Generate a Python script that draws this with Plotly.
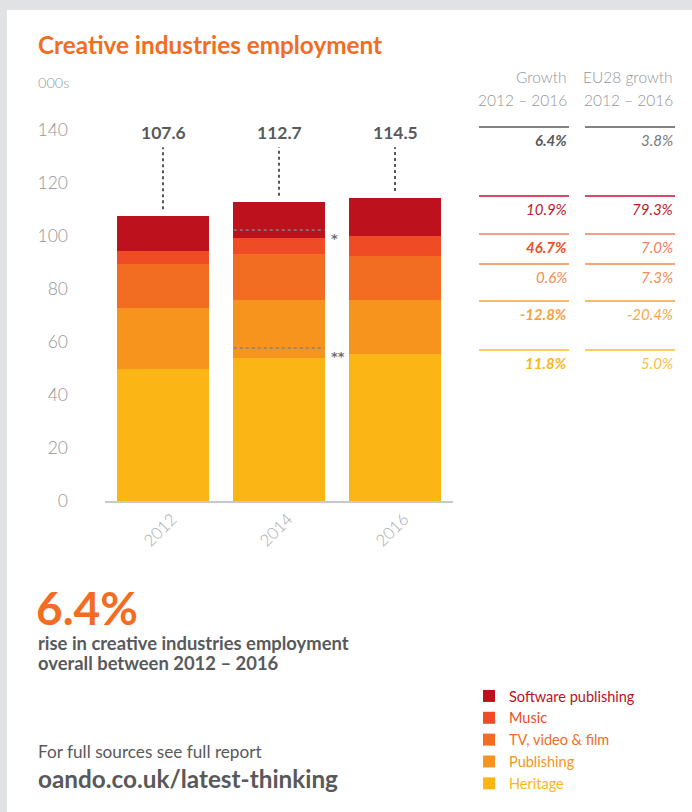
import plotly.graph_objects as go

W, H = 692, 812

# ---------------- data ----------------
years = ["2012", "2014", "2016"]
sectors = ["Heritage", "Publishing", "TV, video & film", "Music", "Software publishing"]
colors = ["#fbb615", "#f7941e", "#f26c22", "#ef4b24", "#bd111d"]
heritage = [49.8, 54.0, 55.6]
publishing = [23.0, 21.8, 20.2]
tv_video_film = [16.6, 17.4, 16.7]
music = [4.9, 6.0, 7.4]
software = [13.3, 13.5, 14.6]
totals = [107.6, 112.7, 114.5]
series = [heritage, publishing, tv_video_film, music, software]

# dotted reference marks in the 2014 bar
mark_year_index = 1
mark_values = [102.3, 57.7]
mark_labels = ["*", "**"]

# growth table (top row = total)
table_rows = ["Total", "Software publishing", "Music", "TV, video & film", "Publishing", "Heritage"]
growth_uk = ["6.4%", "10.9%", "46.7%", "0.6%", "-12.8%", "11.8%"]
growth_eu = ["3.8%", "79.3%", "7.0%", "7.3%", "-20.4%", "5.0%"]
uk_bold = [True, False, True, False, True, True]
row_line_colors = ["#58595b", "#c8102e", "#f47c5c", "#f5894a", "#f8a23a", "#fcbe2a"]
row_text_colors = ["#58595b", "#c0182b", "#f04e23", "#f58a50", "#f7a13a", "#fbb617"]
eu_text_colors = ["#77787b", "#c0182b", "#f47c5c", "#f58a50", "#f7a747", "#fbc040"]

yticks = [0, 20, 40, 60, 80, 100, 120, 140]

FONT = "Lato"
GRAY = "#58595b"
LIGHT = "#939598"
ORANGE = "#f26c22"


def px(x):
    return x / W


def py(y):
    return 1 - y / H


fig = go.Figure()
for name, vals, col in zip(sectors, series, colors):
    fig.add_trace(go.Bar(
        x=years, y=vals, name=f"<span style='color:{col}'>{name}</span>",
        marker=dict(color=col, line=dict(width=0)), hoverinfo="y+name",
    ))

# plot area: y=0 at px 501, 140 at px 130
ymax = 145
ppu = (501 - 130) / 140
top_px = 501 - ymax * ppu

shapes = []
annotations = []

# white card
shapes.append(dict(type="rect", xref="paper", yref="paper", x0=px(7), x1=1.0, y0=0, y1=py(10),
                   fillcolor="white", line=dict(width=0), layer="below"))

# totals labels + dotted leaders
label_val = 139.2
for i, (yr, t) in enumerate(zip(years, totals)):
    annotations.append(dict(x=i, y=label_val, xref="x", yref="y", text=f"<b>{t}</b>",
                            showarrow=False, font=dict(family=FONT, size=17.5, color=GRAY)))
    shapes.append(dict(type="line", xref="x", yref="y", x0=i, x1=i, y0=t + 2.5, y1=133.5,
                       line=dict(color=GRAY, width=2, dash="dot")))

# reference dotted lines in 2014 bar
for v, lab in zip(mark_values, mark_labels):
    shapes.append(dict(type="line", xref="x", yref="y", x0=mark_year_index - 0.39, x1=mark_year_index + 0.39,
                       y0=v, y1=v, line=dict(color="#808285", width=1.5, dash="dot")))
    annotations.append(dict(x=mark_year_index + 0.43, y=v + 0.3, xref="x", yref="y", text=f"<b>{lab}</b>",
                            showarrow=False, xanchor="left", yanchor="top",
                            font=dict(family="DejaVu Sans", size=13, color="#6d6e71")))

# title etc
annotations.append(dict(x=px(36), y=py(44), xref="paper", yref="paper", xanchor="left", yanchor="middle",
                        text="<b>Creative industries employment</b>", showarrow=False,
                        font=dict(family=FONT, size=24.3, color=ORANGE)))
annotations.append(dict(x=px(36), y=py(82), xref="paper", yref="paper", xanchor="left", yanchor="middle",
                        text="000s", showarrow=False, font=dict(family=FONT, size=14.5, color=LIGHT, weight=300)))

# table headers
col_right = [569, 675]
col_left = [479, 585]
headers = [("Growth", "2012 – 2016"), ("EU28 growth", "2012 – 2016")]
for (h1, h2), xr in zip(headers, col_right):
    annotations.append(dict(x=px(xr), y=py(77), xref="paper", yref="paper", xanchor="right", yanchor="middle",
                            text=h1, showarrow=False, font=dict(family=FONT, size=15.5, color=LIGHT, weight=300)))
    annotations.append(dict(x=px(xr), y=py(100), xref="paper", yref="paper", xanchor="right", yanchor="middle",
                            text=h2, showarrow=False, font=dict(family=FONT, size=15.5, color=LIGHT, weight=300)))

row_y = [127, 196, 234, 264, 301, 350]
for r, yl in enumerate(row_y):
    for c in range(2):
        shapes.append(dict(type="line", xref="paper", yref="paper", x0=px(col_left[c]), x1=px(col_right[c]),
                           y0=py(yl), y1=py(yl), line=dict(color=row_line_colors[r], width=1.3)))
    t_uk = f"<i>{growth_uk[r]}</i>"
    if uk_bold[r]:
        t_uk = f"<b>{t_uk}</b>"
    annotations.append(dict(x=px(col_right[0]), y=py(yl + 13), xref="paper", yref="paper", xanchor="right",
                            yanchor="middle", text=t_uk, showarrow=False,
                            font=dict(family=FONT, size=15, color=row_text_colors[r])))
    annotations.append(dict(x=px(col_right[1]), y=py(yl + 13), xref="paper", yref="paper", xanchor="right",
                            yanchor="middle", text=f"<i>{growth_eu[r]}</i>", showarrow=False,
                            font=dict(family=FONT, size=15, color=eu_text_colors[r])))

# headline
annotations.append(dict(x=px(34), y=py(607), xref="paper", yref="paper", xanchor="left", yanchor="middle",
                        text="<b>6.4%</b>", showarrow=False, font=dict(family=FONT, size=46, color=ORANGE)))
annotations.append(dict(x=px(36), y=py(643), xref="paper", yref="paper", xanchor="left", yanchor="middle",
                        text="<b>rise in creative industries employment</b>", showarrow=False,
                        font=dict(family=FONT, size=18.4, color=GRAY)))
annotations.append(dict(x=px(36), y=py(663), xref="paper", yref="paper", xanchor="left", yanchor="middle",
                        text="<b>overall between 2012 – 2016</b>", showarrow=False,
                        font=dict(family=FONT, size=18.4, color=GRAY)))
annotations.append(dict(x=px(36), y=py(751), xref="paper", yref="paper", xanchor="left", yanchor="middle",
                        text="For full sources see full report", showarrow=False,
                        font=dict(family=FONT, size=17.2, color=GRAY)))
annotations.append(dict(x=px(36), y=py(778), xref="paper", yref="paper", xanchor="left", yanchor="middle",
                        text="<b>oando.co.uk/latest-thinking</b>", showarrow=False,
                        font=dict(family=FONT, size=24.3, color=GRAY)))

fig.update_layout(
    width=W, height=H,
    margin=dict(l=0, r=0, t=0, b=0, autoexpand=False),
    paper_bgcolor="#e1e2e4",
    plot_bgcolor="white",
    barmode="stack",
    bargap=0.215,
    showlegend=True,
    legend=dict(x=px(469), y=py(680), xanchor="left", yanchor="top", traceorder="reversed",
                font=dict(family=FONT, size=14.5), bgcolor="rgba(0,0,0,0)",
                itemclick=False, tracegroupgap=0, itemwidth=30),
    xaxis=dict(type="category", domain=[px(105), px(453)], showline=True, linecolor="#c7c8ca", linewidth=2,
               tickangle=-45, ticks="", tickfont=dict(family=FONT, size=16.5, color="#a7a9ac", weight=300),
               showgrid=False, zeroline=False, automargin=False, ticklabelshift=9),
    yaxis=dict(domain=[py(501), py(top_px)], range=[0, ymax], tickvals=yticks,
               showgrid=False, zeroline=False, showline=False, ticks="", automargin=False,
               tickfont=dict(family=FONT, size=17.5, color="#939598", weight=300), ticklabelstandoff=36),
    shapes=shapes,
    annotations=annotations,
    font=dict(family=FONT),
)

fig.write_html("out.html")
